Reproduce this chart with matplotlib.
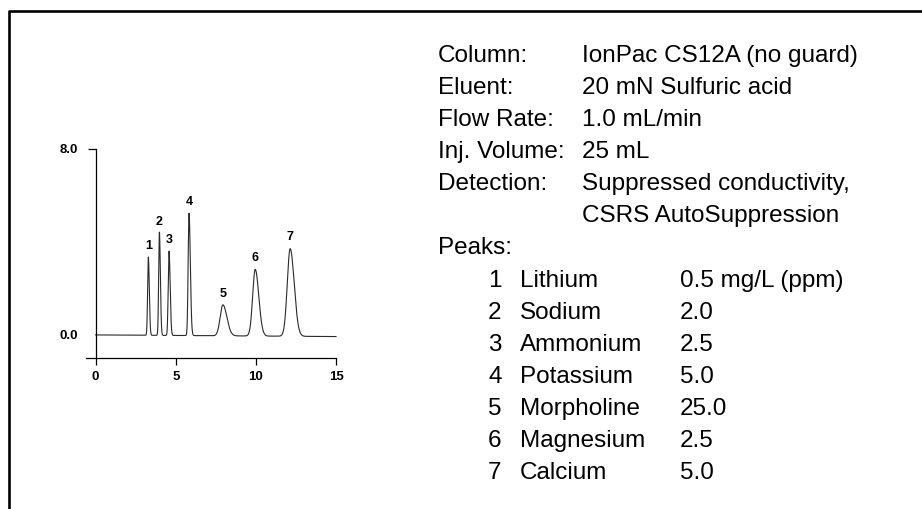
import numpy as np
import matplotlib
matplotlib.use("Agg")
import matplotlib.pyplot as plt
from matplotlib.lines import Line2D

plt.rcParams['font.family'] = ['Liberation Sans', 'DejaVu Sans']

# peak table (minutes, signal units)
peak_ids = ["1", "2", "3", "4", "5", "6", "7"]
retention = [3.29, 3.98, 4.58, 5.83, 7.94, 9.96, 12.14]
heights = [3.36, 4.43, 3.62, 5.25, 1.33, 2.86, 3.76]
sigma_left = [0.045, 0.045, 0.05, 0.055, 0.17, 0.16, 0.18]
sigma_right = [0.06, 0.06, 0.07, 0.08, 0.25, 0.22, 0.25]
baseline_end = -0.07

x_ticks = [0, 5, 10, 15]
y_ticks = [0.0, 8.0]
y_ticklabels = ["0.0", "8.0"]

cond_labels = ["Column:", "Eluent:", "Flow Rate:", "Inj. Volume:", "Detection:", "", "Peaks:"]
cond_values = ["IonPac CS12A (no guard)", "20 mN Sulfuric acid", "1.0 mL/min", "25 mL",
               "Suppressed conductivity,", "CSRS AutoSuppression", ""]
peak_names = ["Lithium", "Sodium", "Ammonium", "Potassium", "Morpholine", "Magnesium", "Calcium"]
peak_amounts = ["0.5 mg/L (ppm)", "2.0", "2.5", "5.0", "25.0", "2.5", "5.0"]

W, H = 922, 509
fig = plt.figure(figsize=(W / 100, H / 100), dpi=100)

# frame lines (left + top)
def px(x, y):
    return x / W, 1 - y / H

fig.add_artist(Line2D([px(9, 0)[0], px(9, 0)[0], 1.0],
                      [0.0, px(0, 11)[1], px(0, 11)[1]],
                      transform=fig.transFigure, color="black", lw=1.9))

# chromatogram axes
ax = fig.add_axes([86 / W, (H - 358) / H, 250 / W, 209.5 / H])
t = np.linspace(0, 15, 4001)
signal = baseline_end * t / 15
for rt, h, sl, sr in zip(retention, heights, sigma_left, sigma_right):
    s = np.where(t < rt, sl, sr)
    signal = signal + h * np.exp(-0.5 * ((t - rt) / s) ** 2)
ax.plot(t, signal, color="#2a2a2a", lw=0.8, clip_on=False)

for pid, rt, h in zip(peak_ids, retention, heights):
    ax.annotate(pid, (rt, h), xytext=(0, 3), textcoords="offset points",
                ha="center", va="bottom", fontsize=9, fontweight="bold")

ax.set_xlim(-0.6, 15)
ax.set_ylim(-0.99, 8.0)
for side in ("top", "right"):
    ax.spines[side].set_visible(False)
ax.spines["left"].set_position(("data", 0))
ax.spines["left"].set_bounds(-0.99, 8.0)
ax.spines["bottom"].set_bounds(-0.6, 15)
for sp in ("left", "bottom"):
    ax.spines[sp].set_linewidth(0.9)

ax.set_xticks(x_ticks)
ax.set_xticklabels([str(v) for v in x_ticks])
ax.set_yticks(y_ticks)
ax.set_yticklabels(y_ticklabels)
ax.tick_params(axis="x", direction="out", length=5, width=0.9, pad=4, labelsize=9.5)
ax.tick_params(axis="y", direction="out", length=6, width=0.9, pad=7, labelsize=9.5)
ax.yaxis.get_major_ticks()[0].tick1line.set_visible(False)
for lbl in ax.get_xticklabels() + ax.get_yticklabels():
    lbl.set_fontweight("bold")

# conditions text block
fs = 17.5
base0, step = 62, 32.08
for i, (lab, val) in enumerate(zip(cond_labels, cond_values)):
    y = base0 + i * step
    if lab:
        fig.text(*px(438, y), lab, fontsize=fs, va="baseline", ha="left")
    if val:
        fig.text(*px(582, y), val, fontsize=fs, va="baseline", ha="left")

for i, (pid, name, amt) in enumerate(zip(peak_ids, peak_names, peak_amounts)):
    y = base0 + (i + 7) * step
    fig.text(*px(488, y), pid, fontsize=fs, va="baseline", ha="left")
    fig.text(*px(520, y), name, fontsize=fs, va="baseline", ha="left")
    fig.text(*px(680, y), amt, fontsize=fs, va="baseline", ha="left")

fig.savefig("out.png", dpi=100)
